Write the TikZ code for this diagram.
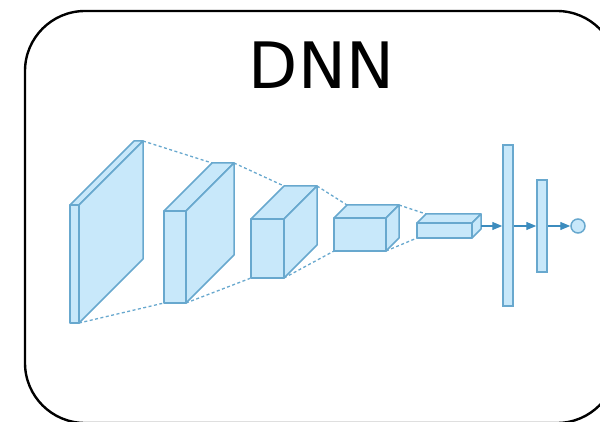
\documentclass[tikz,border=0pt]{standalone}
\usepackage{fontspec}
\setmainfont{DejaVu Sans}
\usetikzlibrary{arrows.meta,calc}
\definecolor{lfill}{RGB}{200,232,250}
\definecolor{lline}{RGB}{104,168,206}
\definecolor{larrow}{RGB}{60,140,190}
\tikzset{
  face/.style={fill=lfill,draw=lline,line width=1.5pt,line join=round},
  dashlink/.style={draw=lline,line width=1.3pt,dash pattern=on 3pt off 2.5pt},
  bar/.style={rectangle,fill=lfill,draw=lline,line width=1.5pt,inner sep=0pt,minimum width=10pt},
  flow/.style={draw=larrow,line width=1.3pt,-{Triangle[length=10pt,width=8pt]}},
  outbox/.style={draw=black,line width=2.4pt,rounded corners=60pt}
}
% name, x1, ytop, x2, ybottom, depth
\newcommand\mycuboid[6]{%
  \coordinate (#1-ftl) at (#2,#3);
  \coordinate (#1-ftr) at (#4,#3);
  \coordinate (#1-fbl) at (#2,#5);
  \coordinate (#1-fbr) at (#4,#5);
  \coordinate (#1-btl) at ($(#1-ftl)+(#6,-#6)$);
  \coordinate (#1-btr) at ($(#1-ftr)+(#6,-#6)$);
  \coordinate (#1-bbr) at ($(#1-fbr)+(#6,-#6)$);
  \path[face] (#1-ftl) -- (#1-btl) -- (#1-btr) -- (#1-ftr) -- cycle;
  \path[face] (#1-ftr) -- (#1-btr) -- (#1-bbr) -- (#1-fbr) -- cycle;
  \path[face] (#1-ftl) rectangle (#1-fbr);
}
\begin{document}
\begin{tikzpicture}[x=1pt,y=-1pt]
\useasboundingbox (0,0) rectangle (600,422);
\clip (0,0) rectangle (600,422);
\draw[outbox] (25,11) rectangle (617,423);
\node[font=\fontsize{64}{70}\selectfont,anchor=base] (title) at (321.5,89) {DNN};

\mycuboid{l1}{70}{205}{79}{323}{64}
\mycuboid{l2}{164}{211}{186}{303}{48}
\mycuboid{l3}{251}{219}{284}{278}{33}
\mycuboid{l4}{334}{218}{386}{251}{13}
\mycuboid{l5}{417}{223}{472}{238}{9}

\foreach \a/\b in {l1/l2,l2/l3,l3/l4,l4/l5}{
  \path[dashlink] (\a-btr) -- (\b-btl);
  \path[dashlink] (\a-fbr) -- (\b-fbl);
}

\node[bar,minimum height=161pt] (b1) at (508,225.5) {};
\node[bar,minimum height=92pt] (b2) at (542,226) {};
\node[circle,fill=lfill,draw=lline,line width=1.5pt,inner sep=0pt,minimum size=14pt] (out) at (578,226) {};
\coordinate (l5-out) at (481,226);

\draw[flow] (l5-out) -- (l5-out -| b1.west);
\draw[flow] (b1.east |- l5-out) -- (b2.west |- l5-out);
\draw[flow] (b2.east |- out) -- (out.west);
\end{tikzpicture}
\end{document}
